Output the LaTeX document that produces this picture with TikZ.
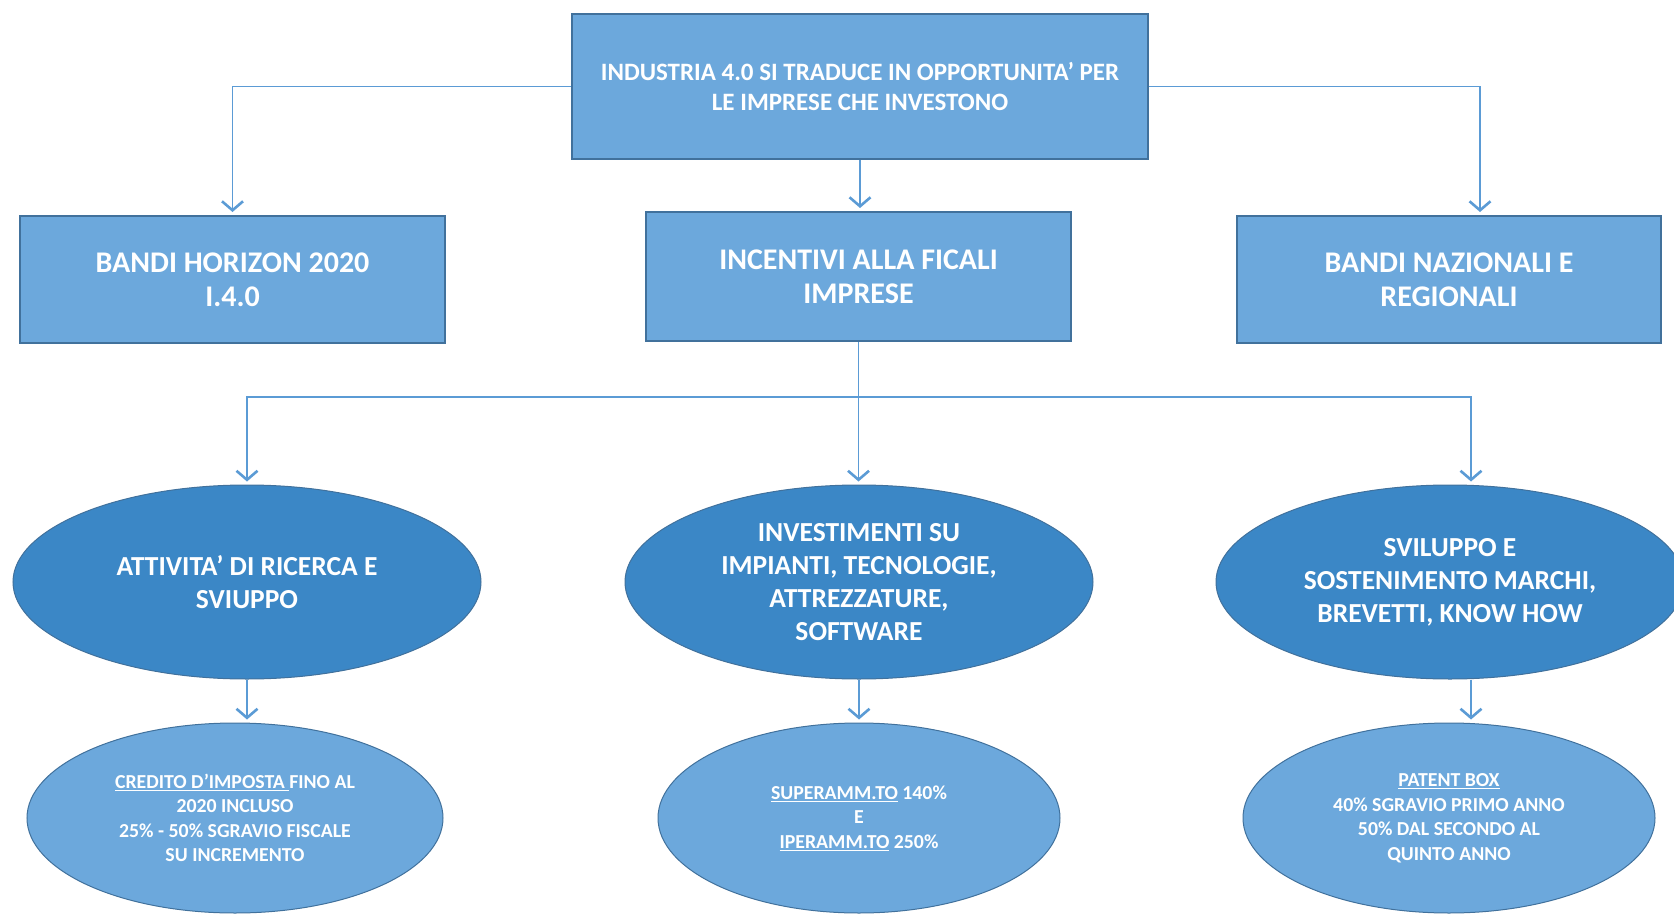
\documentclass[tikz,border=0pt]{standalone}
\usepackage{fontspec}
\setmainfont{Carlito}
\usetikzlibrary{shapes.geometric,arrows.meta}
\definecolor{boxblue}{HTML}{6CA8DC}
\definecolor{edgeblue}{HTML}{41719C}
\definecolor{ovalblue}{HTML}{3B87C6}
\definecolor{lineblue}{HTML}{5B9BD5}

\begin{document}
\begin{tikzpicture}
            [x=1pt,y=-1pt,every node/.style={text=white,align=center,inner sep=0pt},
            box/.style={rectangle,draw=edgeblue,line width=2pt,fill=boxblue},
            oval/.style={ellipse,draw=edgeblue,line width=1pt,fill=ovalblue,
              minimum width=468pt,minimum height=194pt,font=\bfseries\fontsize{27.5}{33}\selectfont},
            leaf/.style={ellipse,draw=edgeblue,line width=1pt,fill=boxblue,
              minimum height=190pt,font=\bfseries\fontsize{19.8}{24.5}\selectfont},
            link/.style={draw=lineblue,line width=1.8pt},
            arr/.style={link,shorten >=3pt,-{Straight Barb[length=9pt,width=21pt,line width=2.6pt]}}]
            \useasboundingbox (0,0) rectangle (1674,915);
            \clip (0,0) rectangle (1674,915);
            \node[box,minimum width=576pt,minimum height=145pt,font=\bfseries\fontsize{25}{30}\selectfont] (ind) at (860,86.5)
              {INDUSTRIA 4.0 SI TRADUCE IN OPPORTUNITA’ PER\\LE IMPRESE CHE INVESTONO};
            \node[box,minimum width=425pt,minimum height=127pt,font=\bfseries\fontsize{30}{34}\selectfont] (hor) at (232.5,279.5)
              {BANDI HORIZON 2020\\I.4.0};
            \node[box,minimum width=425pt,minimum height=129pt,font=\bfseries\fontsize{30}{34}\selectfont] (inc) at (858.5,276.5)
              {INCENTIVI ALLA FICALI\\IMPRESE};
            \node[box,minimum width=424pt,minimum height=127pt,font=\bfseries\fontsize{30}{34}\selectfont] (naz) at (1449,279.5)
              {BANDI NAZIONALI E\\REGIONALI};
            \node[oval] (ric) at (247,582) {ATTIVITA’ DI RICERCA E\\SVIUPPO};
            \node[oval] (inv) at (859,582) {INVESTIMENTI SU\\IMPIANTI, TECNOLOGIE,\\ATTREZZATURE,\\SOFTWARE};
            \node[oval] (svi) at (1450,582) {SVILUPPO E\\SOSTENIMENTO MARCHI,\\BREVETTI, KNOW HOW};
            \node[leaf,minimum width=416pt] (cre) at (235,818)
              {\underline{CREDITO D’IMPOSTA }FINO AL\\2020 INCLUSO\\25\% - 50\% SGRAVIO FISCALE\\SU INCREMENTO};
            \node[leaf,minimum width=402pt] (sup) at (859,818)
              {\underline{SUPERAMM.TO} 140\%\\E\\\underline{IPERAMM.TO} 250\%};
            \node[leaf,minimum width=412pt] (pat) at (1449,818)
              {\underline{PATENT BOX}\\40\% SGRAVIO PRIMO ANNO\\50\% DAL SECONDO AL\\QUINTO ANNO};
            \coordinate (fork) at (inc.south |- 0,397);
            \coordinate (sviin) at ([xshift=21pt]svi.north);
            \coordinate (sviout) at ([xshift=21pt]svi.south);
            % from the top box
            \draw[arr] (ind.west) -| (hor.north);
            \draw[arr] (ind.south) -- (ind.south |- inc.north);
            \draw[arr] (ind.east) -| ([xshift=31pt]naz.north);
            % the fiscal incentives
            \draw[link] (inc.south) -- (fork);
            \draw[arr] (fork) -| (ric.north);
            \draw[arr] (fork) -- (fork |- inv.north);
            \draw[arr] (fork) -| (sviin);
            % down to the benefits
            \draw[arr] (ric.south) -- (ric.south |- cre.north);
            \draw[arr] (inv.south) -- (inv.south |- sup.north);
            \draw[arr] (sviout) -- (sviout |- pat.north);
        \end{tikzpicture}
\end{document}
